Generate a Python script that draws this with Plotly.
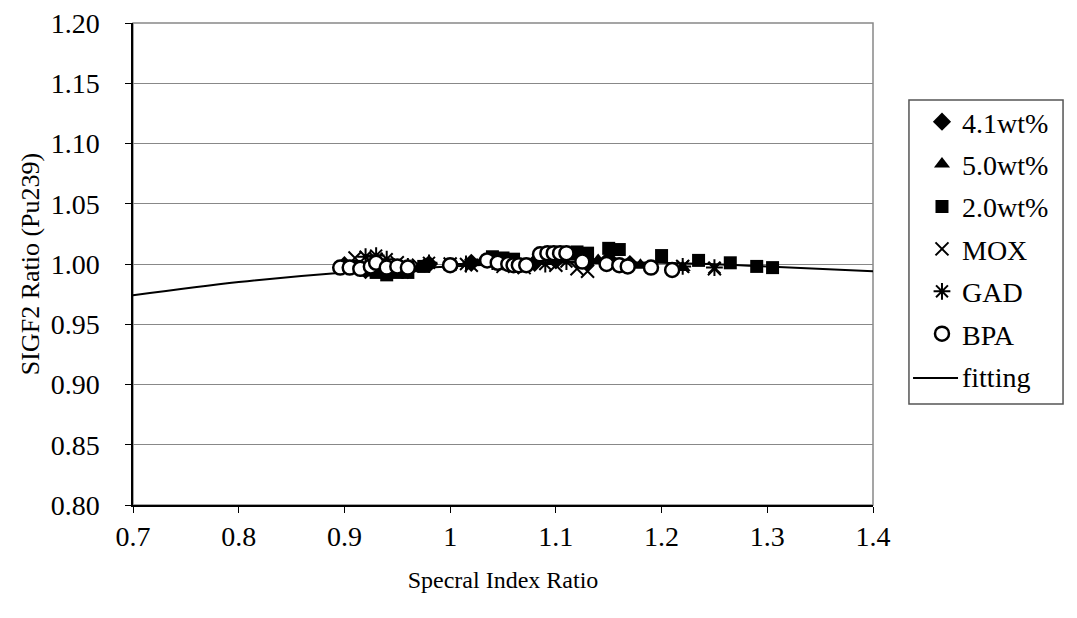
import plotly.graph_objects as go

# ---- data ----
wt41_x = [0.90, 0.92, 0.94, 0.96, 0.98, 1.02, 1.05, 1.08, 1.10, 1.13, 1.15, 1.17]
wt41_y = [0.999, 0.995, 0.994, 0.995, 1.000, 1.001, 1.002, 1.001, 1.003, 1.002, 1.004, 1.000]

wt50_x = [0.91, 0.93, 0.95, 0.97, 1.00, 1.03, 1.06, 1.09, 1.12, 1.14, 1.18, 1.22]
wt50_y = [0.996, 0.994, 0.993, 0.996, 0.999, 1.002, 1.003, 1.005, 1.006, 1.003, 0.999, 0.997]

wt20_x = [0.91, 0.92, 0.93, 0.94, 0.95, 0.96, 0.975, 1.04, 1.05, 1.06, 1.10, 1.12, 1.13,
          1.15, 1.16, 1.20, 1.235, 1.265, 1.29, 1.305]
wt20_y = [0.998, 0.995, 0.993, 0.991, 0.993, 0.993, 0.998, 1.006, 1.005, 1.004, 1.008, 1.010,
          1.009, 1.013, 1.012, 1.007, 1.003, 1.001, 0.998, 0.997]

mox_x = [0.91, 0.93, 0.95, 0.97, 1.00, 1.02, 1.05, 1.07, 1.10, 1.12, 1.13, 1.22, 1.25]
mox_y = [1.005, 1.004, 1.001, 0.999, 1.000, 0.999, 0.998, 0.997, 0.999, 0.996, 0.994, 0.998, 0.996]

gad_x = [0.92, 0.93, 0.94, 0.96, 0.98, 1.015, 1.04, 1.06, 1.09, 1.11, 1.13, 1.22, 1.25]
gad_y = [1.006, 1.007, 1.004, 0.998, 1.001, 1.000, 1.002, 1.001, 1.000, 1.002, 1.004, 0.998, 0.997]

bpa_x = [0.896, 0.905, 0.915, 0.925, 0.93, 0.94, 0.95, 0.96, 1.00, 1.035, 1.045, 1.055, 1.06,
         1.065, 1.072, 1.085, 1.092, 1.098, 1.104, 1.11, 1.125, 1.148, 1.16, 1.168, 1.19, 1.21]
bpa_y = [0.997, 0.997, 0.996, 0.998, 1.001, 0.997, 0.998, 0.997, 0.999, 1.003, 1.001, 1.000,
         0.999, 0.999, 0.999, 1.008, 1.009, 1.009, 1.009, 1.009, 1.002, 1.000, 0.999, 0.998,
         0.997, 0.995]

fit_x = [0.70, 0.80, 0.90, 1.00, 1.10, 1.20, 1.30, 1.40]
fit_y = [0.974, 0.985, 0.993, 0.998, 1.001, 1.001, 0.998, 0.994]

x_ticks = [0.7, 0.8, 0.9, 1.0, 1.1, 1.2, 1.3, 1.4]
x_tick_text = ["0.7", "0.8", "0.9", "1", "1.1", "1.2", "1.3", "1.4"]
y_ticks = [0.80, 0.85, 0.90, 0.95, 1.00, 1.05, 1.10, 1.15, 1.20]
y_tick_text = ["0.80", "0.85", "0.90", "0.95", "1.00", "1.05", "1.10", "1.15", "1.20"]

FONT = "Liberation Serif, Times New Roman, serif"

fig = go.Figure()
fig.add_trace(go.Scatter(x=fit_x, y=fit_y, mode="lines", name="fitting",
                         line=dict(color="black", width=2, shape="spline"), showlegend=False))

series = [
    ("4.1wt%", wt41_x, wt41_y, dict(symbol="diamond", size=14, color="black")),
    ("5.0wt%", wt50_x, wt50_y, dict(symbol="triangle-up", size=14, color="black")),
    ("2.0wt%", wt20_x, wt20_y, dict(symbol="square", size=13, color="black")),
    ("MOX", mox_x, mox_y, dict(symbol="x-thin-open", size=13, color="black",
                               line=dict(color="black", width=2))),
    ("GAD", gad_x, gad_y, dict(symbol="asterisk-open", size=14, color="black",
                               line=dict(color="black", width=2))),
    ("BPA", bpa_x, bpa_y, dict(symbol="circle", size=14, color="white",
                               line=dict(color="black", width=2.5))),
]
for i, (name, xs, ys, mk) in enumerate(series):
    fig.add_trace(go.Scatter(x=xs, y=ys, mode="markers", name=name, marker=mk,
                             legendgroup="g%d" % i))

# legend entry for the fitting curve (its swatch is drawn as a longer shape below)
fig.add_trace(go.Scatter(x=[None], y=[None], mode="lines", name="fitting",
                         line=dict(color="rgba(0,0,0,0)", width=2), legendgroup="gfit"))

fig.update_layout(
    width=1077, height=618,
    margin=dict(l=133, r=204, t=23, b=113, autoexpand=False),
    paper_bgcolor="white", plot_bgcolor="white",
    font=dict(family=FONT, size=26, color="black"),
    legend=dict(x=1.0662, xanchor="left", y=0.8465, yanchor="top",
                borderwidth=0, bgcolor="rgba(0,0,0,0)",
                font=dict(family=FONT, size=28),
                traceorder="grouped", tracegroupgap=3, itemwidth=30),
    xaxis=dict(range=[0.7, 1.4], tickvals=x_ticks, ticktext=x_tick_text,
               showgrid=False, zeroline=False, showline=True, linecolor="black",
               linewidth=1.5, ticks="outside", ticklen=6, tickcolor="black",
               tickfont=dict(size=28), automargin=False,
               title=dict(text="Specral Index Ratio", standoff=20, font=dict(size=24))),
    yaxis=dict(range=[0.80, 1.20], tickvals=y_ticks, ticktext=y_tick_text,
               showgrid=True, gridcolor="#888888", gridwidth=1, zeroline=False,
               showline=True, linecolor="black", linewidth=1.5, ticks="outside",
               ticklen=6, tickcolor="black", ticklabelstandoff=20,
               tickfont=dict(size=28), automargin=False,
               title=dict(text="SIGF2 Ratio (Pu239)", standoff=4, font=dict(size=26))),
)
fig.add_shape(type="rect", xref="paper", yref="paper", x0=0, y0=0, x1=1, y1=1,
              line=dict(color="#888888", width=1.5), layer="below")
# legend frame
fig.add_shape(type="rect", xref="paper", yref="paper", x0=1.0486, y0=0.2095,
              x1=1.2568, y1=0.8402, line=dict(color="#555555", width=1.5))
# legend swatch for "fitting"
fig.add_shape(type="line", xref="paper", yref="paper", x0=1.0541, x1=1.1149,
              y0=0.2635, y1=0.2635, line=dict(color="black", width=2))

fig.write_html("out.html", config={"displayModeBar": False},
               post_script="document.body.style.margin='0';document.body.style.overflow='hidden';")
